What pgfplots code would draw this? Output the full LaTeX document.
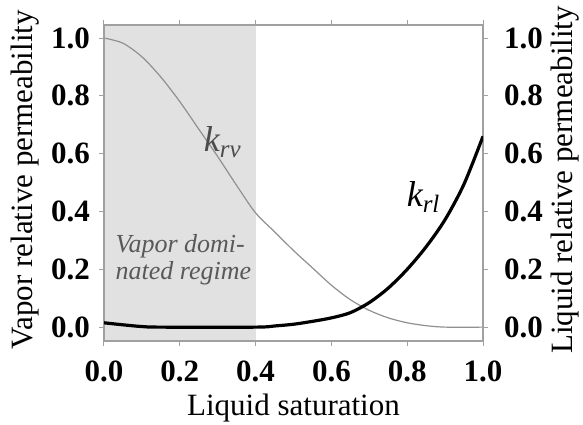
\documentclass[border=0pt]{standalone}
\usepackage{fontspec}
\setmainfont{Liberation Serif}
\usepackage{pgfplots}
\usepackage{pgfplotstable}
\pgfplotsset{compat=1.18}

\pgfplotstableread{
x y
0 1.0
0.05 0.982
0.1 0.935
0.15 0.865
0.2 0.78
0.25 0.685
0.3 0.59
0.35 0.49
0.4 0.395
0.45 0.33
0.5 0.265
0.55 0.205
0.6 0.145
0.65 0.095
0.7 0.058
0.75 0.032
0.8 0.015
0.85 0.005
0.9 0.0
1.0 0.0
}\krv

\pgfplotstableread{
x y
0 0.015
0.05 0.008
0.1 0.002
0.15 0
0.4 0
0.45 0.004
0.5 0.01
0.55 0.02
0.6 0.032
0.65 0.05
0.7 0.085
0.75 0.135
0.8 0.2
0.85 0.278
0.9 0.372
0.95 0.495
1.0 0.66
}\krl

\definecolor{shade}{HTML}{E1E1E1}
\definecolor{frame}{HTML}{A0A0A0}
\definecolor{vcurve}{HTML}{909090}

\begin{document}
\begin{tikzpicture}
\pgfplotsset{
  common/.style={
    scale only axis, width=189.5pt, height=158pt,
    xmin=0, xmax=1, ymin=-0.048, ymax=1.045,
    axis line style={frame, line width=0.6pt},
    tick style={frame, line width=0.5pt},
    tick align=outside, major tick length=2.5pt,
    xtick={0,0.2,0.4,0.6,0.8,1.0}, ytick={0,0.2,0.4,0.6,0.8,1.0},
    xticklabel style={/pgf/number format/fixed, /pgf/number format/fixed zerofill, /pgf/number format/precision=1, /pgf/number format/assume math mode=true},
    yticklabel style={/pgf/number format/fixed, /pgf/number format/fixed zerofill, /pgf/number format/precision=1, /pgf/number format/assume math mode=true},
    tick label style={font=\fontsize{15.5}{16}\selectfont\bfseries, text=black},
    label style={font=\fontsize{15.5}{16}\selectfont, text=black},
  }
}
\begin{axis}[common,
  axis on top,
  xtick pos=both, ytick pos=left,
  xlabel={Liquid saturation},
  ylabel={Vapor relative permeability},
  xticklabel style={yshift=-4pt},
  yticklabel style={xshift=-1pt},
  xlabel style={at={(axis description cs:0.5,0)}, anchor=base, yshift=-37pt},
  ylabel style={at={(axis description cs:-0.2084,0.51)}, anchor=center, rotate=0},
]
\addplot[fill=shade, draw=none] coordinates {(0,-0.1) (0.4,-0.1) (0.4,1.1) (0,1.1)} -- cycle;
\addplot[vcurve, line width=0.6pt, smooth] table {\krv};
\node[text=black!70, font=\fontsize{18}{18}\selectfont\itshape] at (axis cs:0.312,0.64) {k\raisebox{-0.4ex}{\fontsize{12.5}{12}\selectfont rv}};
\node[anchor=west, align=left, text=black!65, font=\fontsize{13}{13.5}\selectfont\itshape] at (axis cs:0.012,0.232) {Vapor domi-\\nated regime};
\coordinate (bl) at (rel axis cs:0,0);
\coordinate (tr) at (rel axis cs:1,1);
\end{axis}
\begin{axis}[common,
  axis y line*=right, axis x line=none,
  ylabel={Liquid relative permeability},
  yticklabel style={xshift=4.5pt},
  ylabel style={at={(axis description cs:1.2164,0.51)}, anchor=center, rotate=0},
]
\addplot[black, line width=1.6pt, smooth] table {\krl};
\node[text=black, font=\fontsize{18}{18}\selectfont\itshape] at (axis cs:0.842,0.45) {k\raisebox{-0.4ex}{\fontsize{12.5}{12}\selectfont rl}};
\end{axis}
\pgfresetboundingbox
\path ([shift={(-52pt,-41.5pt)}]bl) rectangle ([shift={(50pt,12.5pt)}]tr);
\end{tikzpicture}
\end{document}
